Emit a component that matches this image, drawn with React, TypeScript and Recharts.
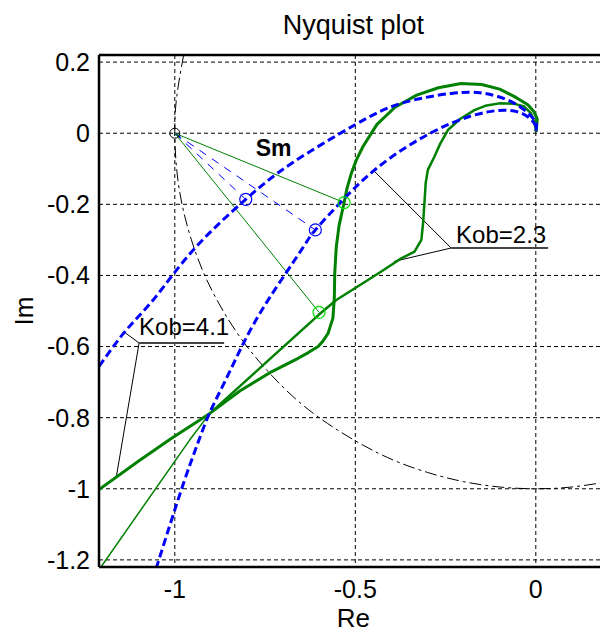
import React from 'react';
import {
  ComposedChart,
  Line,
  XAxis,
  YAxis,
  CartesianGrid,
  ReferenceLine,
  ReferenceDot,
} from 'recharts';

type P = { x: number; y: number };
const pts = (a: number[][]): P[] => a.map(([x, y]) => ({ x, y }));

// ---- axes ----
const xTicks = [-1, -0.5, 0];
const yTicks = [0.2, 0, -0.2, -0.4, -0.6, -0.8, -1, -1.2];
const xDomain: [number, number] = [-1.21, 0.2];
const yDomain: [number, number] = [-1.22, 0.22];

// ---- unit circle ----
const unitCircle = pts([
  [-0.9755, 0.22], [-0.995, 0.1], [-1, 0], [-0.995, -0.1], [-0.98, -0.2],
  [-0.954, -0.3], [-0.917, -0.4], [-0.866, -0.5], [-0.8, -0.6], [-0.714, -0.7],
  [-0.6, -0.8], [-0.436, -0.9], [-0.3, -0.954], [-0.2, -0.98], [-0.1, -0.995],
  [0, -1], [0.1, -0.995], [0.2, -0.98],
]);

// ---- blue dashed curves ----
const blueOuter = pts([
  [-1.21, -0.656], [-1.134, -0.553], [-1.056, -0.464], [-0.9447, -0.3237],
  [-0.8035, -0.186], [-0.677, -0.085], [-0.502, 0.023], [-0.373, 0.084],
  [-0.234, 0.112], [-0.142, 0.112], [-0.059, 0.084], [-0.004, 0.037], [0, 0.008],
]);
const blueInner = pts([
  [-1.052, -1.225], [-0.981, -1.0], [-0.94, -0.882], [-0.905, -0.79],
  [-0.862, -0.7], [-0.811, -0.593], [-0.742, -0.47], [-0.651, -0.331],
  [-0.6107, -0.272], [-0.53, -0.183], [-0.4466, -0.1035], [-0.346, -0.031],
  [-0.234, 0.028], [-0.133, 0.06], [-0.05, 0.06], [-0.004, 0.028], [0, 0.005],
]);

// ---- green curves ----
const greenOuter = pts([
  [0.001, 0.004], [0.004, 0.04], [-0.006, 0.062], [-0.022, 0.08], [-0.059, 0.103],
  [-0.1, 0.124], [-0.15, 0.137], [-0.207, 0.14], [-0.27, 0.128], [-0.33, 0.107],
  [-0.39, 0.073], [-0.44, 0.025], [-0.479, -0.038], [-0.497, -0.075],
  [-0.511, -0.113], [-0.523, -0.155], [-0.531, -0.195], [-0.545, -0.26],
  [-0.5526, -0.319], [-0.557, -0.394], [-0.558, -0.46], [-0.562, -0.52],
  [-0.5755, -0.563], [-0.59, -0.585], [-0.603, -0.6], [-0.63, -0.617],
  [-0.6586, -0.633], [-0.7324, -0.671], [-0.82, -0.725], [-0.903, -0.788],
  [-1.012, -0.86], [-1.1, -0.922], [-1.21, -1.002],
]);
const greenInner = pts([
  [0.001, 0.004], [-0.004, 0.03], [-0.013, 0.056], [-0.032, 0.075],
  [-0.06, 0.083], [-0.101, 0.084], [-0.14, 0.077], [-0.17, 0.065],
  [-0.21, 0.04], [-0.2435, 0.009], [-0.265, -0.03], [-0.281, -0.066],
  [-0.299, -0.103], [-0.305, -0.14], [-0.308, -0.188], [-0.312, -0.25],
  [-0.317, -0.3], [-0.336, -0.333], [-0.3727, -0.352], [-0.428, -0.389],
  [-0.465, -0.413], [-0.5526, -0.469], [-0.6005, -0.51], [-0.903, -0.788],
]);
const greenTail = pts([[-0.903, -0.788], [-0.959, -0.863], [-1.206, -1.222]]);

// ---- stability-margin rays from the critical point ----
const criticalPoint = pts([[-1, 0]]);
const blueMarks = pts([[-0.8035, -0.186], [-0.6107, -0.272]]);
const greenMarks = pts([[-0.531, -0.195], [-0.6005, -0.5037]]);

// ---- annotation leaders ----
const kob23Leader = pts([[-0.4507, -0.1035], [-0.2346, -0.3228], [-0.3925, -0.3605]]);
const kob23Under = pts([[-0.2346, -0.3228], [0.0341, -0.3228]]);
const kob41Leader = pts([[-1.1404, -0.559], [-1.0989, -0.59], [-1.1626, -0.9697]]);
const kob41Under = pts([[-1.0989, -0.59], [-0.8634, -0.59]]);

const labelTexts = ['Kob=2.3', 'Kob=4.1', 'Sm'];
const labelAnchors = pts([[-0.2208, -0.3088], [-1.099, -0.5675], [-0.7263, -0.0641]]);

const FONT = '"Liberation Sans", Arial, Helvetica, sans-serif';

const BLUE = '#0000ff';
const GREEN = '#008000';
const LIME = '#00e000';

const seriesLine = (
  key: string,
  data: P[],
  stroke: string,
  width: number,
  dash?: string,
  type: 'linear' | 'natural' = 'linear'
) => (
  <Line
    key={key}
    data={data}
    dataKey="y"
    type={type}
    stroke={stroke}
    strokeWidth={width}
    strokeDasharray={dash}
    strokeLinejoin="round"
    dot={false}
    activeDot={false}
    isAnimationActive={false}
    legendType="none"
  />
);

const textShape = (text: string, anchor: string, size: number, weight: string) =>
  (props: any) => (
    <text
      x={props.cx}
      y={props.cy}
      textAnchor={anchor}
      fontSize={size}
      fontWeight={weight}
      fontFamily={FONT}
      fill="#000"
    >
      {text}
    </text>
  );

export default function App() {
  const tickStyle = { fill: '#000', fontSize: 25, fontFamily: FONT };
  return (
    <div
      style={{
        position: 'fixed',
        left: 8,
        top: 8,
        width: 592,
        height: 624,
        overflow: 'hidden',
        background: '#fff',
      }}
    >
      <ComposedChart
        width={610}
        height={616}
        margin={{ top: 47, right: 10, bottom: 0, left: 0 }}
      >
        <CartesianGrid stroke="#000" strokeDasharray="4 3" strokeWidth={1} />
        <XAxis
          type="number"
          dataKey="x"
          domain={xDomain}
          ticks={xTicks}
          interval={0}
          allowDataOverflow
          height={57}
          tickSize={0}
          tickMargin={13}
          tickLine={false}
          axisLine={{ stroke: '#000', strokeWidth: 2.5 }}
          tick={tickStyle}
        />
        <YAxis
          type="number"
          dataKey="y"
          domain={yDomain}
          ticks={yTicks}
          interval={0}
          allowDataOverflow
          width={91}
          tickSize={0}
          tickMargin={9}
          tickLine={false}
          axisLine={{ stroke: '#000', strokeWidth: 2.5 }}
          tick={tickStyle}
        />
        <ReferenceLine y={0.22} stroke="#000" strokeWidth={2.5} />
        <ReferenceLine x={0.2} stroke="#000" strokeWidth={2.5} />

        {seriesLine('circle', unitCircle, '#000', 1, '12 4 3 4', 'natural')}
        {seriesLine('gray1', kob23Leader, '#000', 1)}
        {seriesLine('gray2', kob41Leader, '#000', 1)}
        {seriesLine('u1', kob23Under, '#444', 2)}
        {seriesLine('u2', kob41Under, '#444', 2)}

        {blueMarks.map((m, i) =>
          seriesLine('bray' + i, [criticalPoint[0], m], BLUE, 1, '8 7')
        )}
        {greenMarks.map((m, i) =>
          seriesLine('gray' + i, [criticalPoint[0], m], GREEN, 1)
        )}

        {seriesLine('gTail', greenTail, GREEN, 1.5)}
        {seriesLine('gInner', greenInner, GREEN, 2.5)}
        {seriesLine('gOuter', greenOuter, GREEN, 3)}
        {seriesLine('bOuter', blueOuter, BLUE, 3, '8 4', 'natural')}
        {seriesLine('bInner', blueInner, BLUE, 3, '8 4', 'natural')}

        <ReferenceDot
          x={criticalPoint[0].x}
          y={criticalPoint[0].y}
          r={5}
          fill="none"
          stroke="#000"
          strokeWidth={1}
        />
        {blueMarks.map((m, i) => (
          <ReferenceDot key={'bm' + i} x={m.x} y={m.y} r={6} fill="none" stroke={BLUE} strokeWidth={1.2} />
        ))}
        {greenMarks.map((m, i) => (
          <ReferenceDot key={'gm' + i} x={m.x} y={m.y} r={6} fill="none" stroke={LIME} strokeWidth={1.2} />
        ))}

        <ReferenceDot
          x={labelAnchors[0].x}
          y={labelAnchors[0].y}
          r={0}
          shape={textShape(labelTexts[0], 'start', 24, 'normal')}
        />
        <ReferenceDot
          x={labelAnchors[1].x}
          y={labelAnchors[1].y}
          r={0}
          shape={textShape(labelTexts[1], 'start', 24, 'normal')}
        />
        <ReferenceDot
          x={labelAnchors[2].x}
          y={labelAnchors[2].y}
          r={0}
          shape={textShape(labelTexts[2], 'middle', 23, 'bold')}
        />
      </ComposedChart>
      <svg
        width={592}
        height={624}
        style={{ position: 'absolute', left: 0, top: 0, pointerEvents: 'none' }}
      >
        <text x={345.4} y={26} textAnchor="middle" fontSize={27} fontFamily={FONT} fill="#000">
          Nyquist plot
        </text>
        <text x={345.4} y={619} textAnchor="middle" fontSize={26} fontFamily={FONT} fill="#000">
          Re
        </text>
        <text
          x={25}
          y={303}
          textAnchor="middle"
          fontSize={26}
          fontFamily={FONT}
          fill="#000"
          transform="rotate(-90 25 303)"
        >
          Im
        </text>
      </svg>
    </div>
  );
}
